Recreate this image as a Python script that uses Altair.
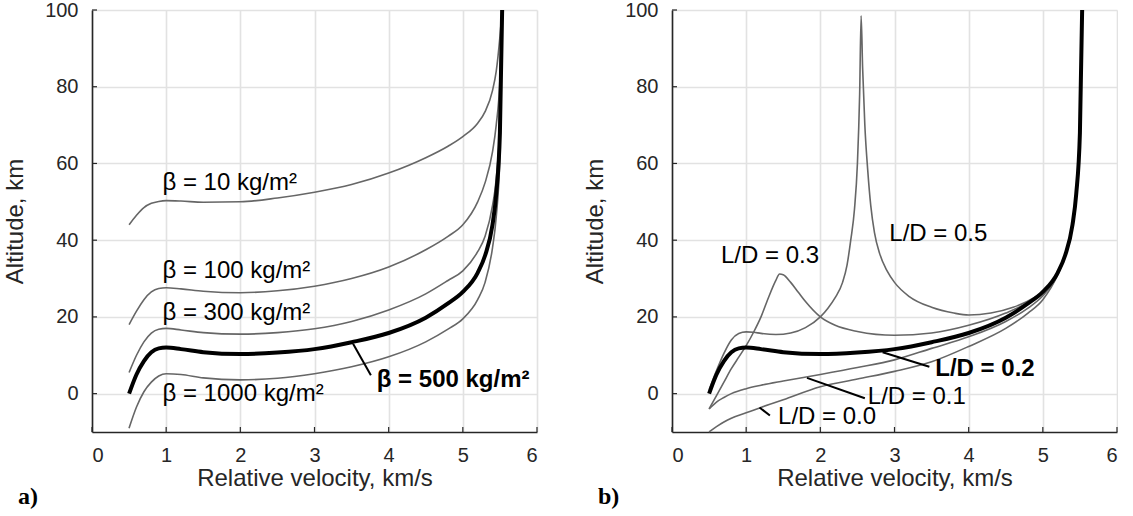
import altair as alt
import pandas as pd

# ---------------- Panel a) : ballistic coefficient ----------------
VEL_A = [0.5, 0.6, 0.7, 0.8, 0.9, 1.0, 1.2, 1.5, 2.0, 2.5, 3.0, 3.5, 4.0, 4.5, 4.8, 5.0, 5.2, 5.3, 5.4, 5.45, 5.5, 5.53]
BETA_10 = [44, 46.5, 48.5, 49.6, 50.1, 50.3, 50.2, 49.9, 50, 51, 52.5, 54.5, 57.5, 61.5, 64.5, 67, 70.5, 73.5, 79, 84, 93, 100]
BETA_100 = [18, 21.5, 24.5, 26.5, 27.4, 27.6, 27.3, 26.7, 26.3, 26.8, 28, 30, 33, 37.5, 41, 44, 50, 55, 63, 70, 82, 100]
BETA_300 = [5.5, 10, 13.5, 15.8, 16.8, 17, 16.6, 15.9, 15.5, 15.9, 16.9, 18.8, 21.8, 26, 29.5, 32, 37, 41, 49, 56, 72, 100]
BETA_500 = [0, 5, 8.5, 10.8, 11.8, 12, 11.6, 10.8, 10.3, 10.7, 11.6, 13.4, 15.8, 19.8, 23.5, 26.5, 31.5, 36, 44, 52, 68, 100]
BETA_1000 = [-9, -3.5, 0.5, 3, 4.6, 5.2, 5, 4.1, 3.6, 4, 5.2, 7, 9.6, 13.5, 16.8, 19.5, 24.5, 29, 38, 46, 62, 100]

LABELS_A = ["β = 10 kg/m²", "β = 100 kg/m²", "β = 300 kg/m²", "β = 1000 kg/m²"]
LABELS_A_X = [0.95, 0.95, 0.95, 0.95]
LABELS_A_Y = [55, 32, 20.9, 0]
BOLD_A = ["β = 500 kg/m²"]
BOLD_A_X = [3.84]
BOLD_A_Y = [3.5]
LEAD_A = [[3.52, 13.0, 3.76, 4.8]]

# ---------------- Panel b) : lift-to-drag ratio ----------------
VEL_LD00 = [0.5, 0.6, 0.7, 0.8, 1.0, 1.2, 1.5, 2.0, 2.5, 3.0, 3.5, 4.0, 4.5, 4.8, 5.0, 5.2, 5.3, 5.4, 5.45, 5.5, 5.53]
LD00 = [-10, -8.6, -7.4, -6.4, -5, -3.6, -1.6, 1.8, 3.8, 5.8, 8.3, 12.3, 17, 21, 24.5, 31, 36, 44, 52, 68, 100]
VEL_LD01 = [0.5, 0.6, 0.7, 0.8, 1.0, 1.2, 1.5, 2.0, 2.5, 3.0, 3.5, 4.0, 4.5, 4.8, 5.0, 5.2, 5.3, 5.4, 5.45, 5.5, 5.53]
LD01 = [-4, -2.2, -1, 0, 1.3, 2.2, 3.3, 5, 6.8, 8.8, 11.8, 14.8, 18.8, 22.3, 25.5, 31, 36, 44, 52, 68, 100]
VEL_LD02 = VEL_A
LD02 = BETA_500
VEL_LD03 = [0.5, 0.6, 0.7, 0.8, 0.9, 1.0, 1.1, 1.2, 1.3, 1.4, 1.45, 1.5, 1.6, 1.7, 1.8, 2.0, 2.2, 2.5, 3.0, 3.5, 4.0, 4.5, 4.8, 5.0, 5.2, 5.3, 5.4, 5.45, 5.5, 5.53]
LD03 = [-4, -0.5, 3, 6.5, 9.5, 12.5, 16, 20, 25, 29.5, 31.2, 31, 29, 26.5, 24, 20, 17.8, 16.2, 15.2, 15.8, 17.8, 21, 23.8, 26.5, 31.5, 36, 44, 52, 68, 100]
VEL_LD05 = [0.5, 0.6, 0.7, 0.8, 0.9, 1.0, 1.1, 1.2, 1.4, 1.6, 1.8, 2.0, 2.1, 2.2, 2.3, 2.36, 2.41, 2.46, 2.5, 2.53, 2.55,
            2.57, 2.6, 2.64, 2.68, 2.73, 2.8, 2.9, 3.0, 3.2, 3.5, 3.8, 4.0, 4.3, 4.6, 4.9, 5.0, 5.2, 5.3, 5.4, 5.45, 5.5, 5.53]
LD05 = [1, 6, 10.5, 14, 15.7, 16.1, 16, 15.7, 15.4, 15.8, 17.2, 20, 22.2, 25, 29, 33.5, 40, 48, 60, 78, 98.5,
        85, 70, 58, 49, 42, 36.5, 32, 29, 25.3, 22.5, 21, 20.5, 21, 22.5, 25.2, 26.5, 31.5, 36, 44, 52, 68, 100]

LABELS_B = ["L/D = 0.5", "L/D = 0.3", "L/D = 0.1", "L/D = 0.0"]
LABELS_B_X = [2.93, 0.66, 2.64, 1.43]
LABELS_B_Y = [41.7, 36, -1.0, -6.0]
BOLD_B = ["L/D = 0.2"]
BOLD_B_X = [3.55]
BOLD_B_Y = [6.5]
LEAD_B = [[2.84, 10.8, 3.47, 7.0], [1.82, 4.1, 2.6, -1.2], [1.18, -3.6, 1.32, -5.7]]

X_TICKS = [0, 1, 2, 3, 4, 5, 6]
Y_TICKS = [0, 20, 40, 60, 80, 100]

FONT = "Liberation Sans"
DARK = "#262626"
GRAYLINE = "#666666"
W, H = 445, 422


def curves_df(curves):
    rows = []
    for name, xs, ys in curves:
        for i, (xv, yv) in enumerate(zip(xs, ys)):
            rows.append({"x": xv, "y": yv, "s": name, "o": i})
    return pd.DataFrame(rows)


xs = alt.Scale(domain=[0, 6], nice=False)
ys = alt.Scale(domain=[-10, 100], nice=False)

xaxis = alt.Axis(values=X_TICKS, title="Relative velocity, km/s", ticks=False,
                 labelPadding=13, titlePadding=1, format="d")
yaxis = alt.Axis(values=Y_TICKS, title="Altitude, km", ticks=False,
                 labelPadding=14, titlePadding=17.6, format="d")


def panel(gray_curves, bold_x, bold_y, labels, bold_labels, leads, tag):
    gdf = curves_df(gray_curves)
    bdf = curves_df([("bold", bold_x, bold_y)])
    gray = alt.Chart(gdf).mark_line(color=GRAYLINE, strokeWidth=1.6, interpolate="monotone").encode(
        x=alt.X("x:Q", scale=xs, axis=xaxis),
        y=alt.Y("y:Q", scale=ys, axis=yaxis),
        detail="s:N",
        order="o:Q",
    )
    bold = alt.Chart(bdf).mark_line(color="#000000", strokeWidth=4, interpolate="monotone").encode(
        x="x:Q", y="y:Q", order="o:Q"
    )
    xt = alt.Chart(pd.DataFrame({"v": X_TICKS})).mark_rule(color=DARK, strokeWidth=1.2).encode(
        x="v:Q", y=alt.value(H), y2=alt.value(H - 5))
    yt = alt.Chart(pd.DataFrame({"v": Y_TICKS})).mark_rule(color=DARK, strokeWidth=1.2).encode(
        y="v:Q", x=alt.value(0), x2=alt.value(5))
    ldf = pd.DataFrame({"x1": [l[0] for l in leads], "y1": [l[1] for l in leads],
                        "x2": [l[2] for l in leads], "y2": [l[3] for l in leads]})
    lead = alt.Chart(ldf).mark_rule(color="#000000", strokeWidth=2).encode(
        x="x1:Q", y="y1:Q", x2="x2:Q", y2="y2:Q"
    )
    tdf = pd.DataFrame({"x": labels[1], "y": labels[2], "t": labels[0]})
    txt = alt.Chart(tdf).mark_text(align="left", baseline="middle", font=FONT, fontSize=24,
                                   color="#000000").encode(x="x:Q", y="y:Q", text="t:N")
    bt = pd.DataFrame({"x": bold_labels[1], "y": bold_labels[2], "t": bold_labels[0]})
    btxt = alt.Chart(bt).mark_text(align="left", baseline="middle", font=FONT, fontSize=24,
                                   fontWeight="bold", color="#000000").encode(x="x:Q", y="y:Q", text="t:N")
    tagc = alt.Chart(pd.DataFrame({"t": [tag]})).mark_text(
        align="left", baseline="middle", font="Liberation Serif", fontSize=24, fontWeight="bold",
        color="#000000").encode(x=alt.value(-74), y=alt.value(487), text="t:N")
    return alt.layer(gray, bold, xt, yt, lead, txt, btxt, tagc).properties(width=W, height=H)


pa = panel(
    [("b10", VEL_A, BETA_10), ("b100", VEL_A, BETA_100), ("b300", VEL_A, BETA_300), ("b1000", VEL_A, BETA_1000)],
    VEL_A, BETA_500,
    (LABELS_A, LABELS_A_X, LABELS_A_Y), (BOLD_A, BOLD_A_X, BOLD_A_Y), LEAD_A, "a)")
pb = panel(
    [("l0", VEL_LD00, LD00), ("l1", VEL_LD01, LD01), ("l3", VEL_LD03, LD03), ("l5", VEL_LD05, LD05)],
    VEL_LD02, LD02,
    (LABELS_B, LABELS_B_X, LABELS_B_Y), (BOLD_B, BOLD_B_X, BOLD_B_Y), LEAD_B, "b)")

chart = alt.hconcat(pa, pb, spacing=45).properties(
    padding={"left": 3, "top": 0, "right": 0, "bottom": 0}
).configure_view(stroke=None).configure_axis(
    grid=True, gridColor="#e2e2e2", gridWidth=1.6,
    domainColor=DARK, domainWidth=1.6,
    labelFont=FONT, labelFontSize=20, labelColor=DARK,
    titleFont=FONT, titleFontSize=24, titleColor=DARK, titleFontWeight="normal",
)

chart.save("out.html", embed_options={"renderer": "svg", "actions": False})
